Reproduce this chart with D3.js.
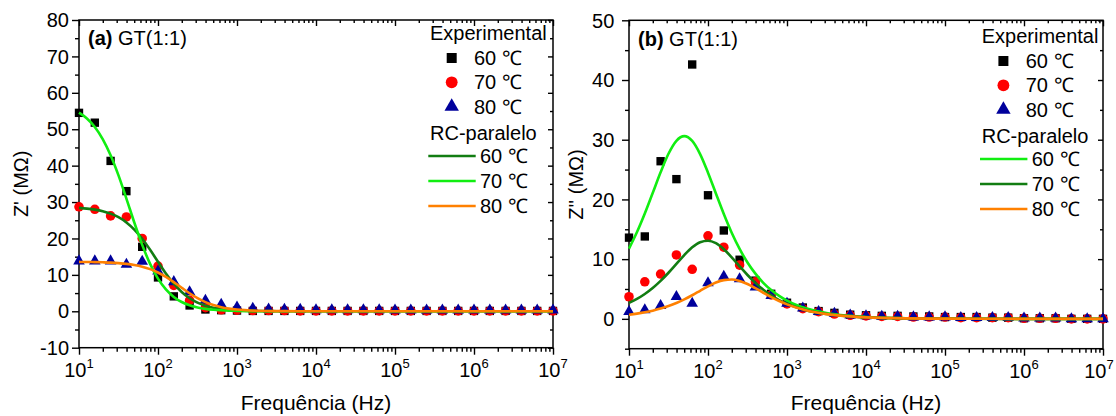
<!DOCTYPE html>
<html>
<head>
<meta charset="utf-8">
<script src="https://cdn.jsdelivr.net/npm/d3@7"></script>
<style>
  body { margin: 0; background: #fff; }
  svg text { font-family: "Liberation Sans", Arial, Helvetica, sans-serif; fill: #000; }
</style>
</head>
<body>
<svg id="chart" width="1116" height="416"></svg>
<script>
// ============================================
// Data
// ============================================

// measured frequencies (Hz), 5 per decade
const expFreq = [10, 15.85, 25.12, 39.81, 63.1, 100, 158.5, 251.2, 398.1, 631, 1000,
  1585, 2512, 3981, 6310, 1e4, 15850, 25120, 39810, 63100, 1e5,
  158500, 251200, 398100, 631000, 1e6, 1585000, 2512000, 3981000, 6310000, 1e7];

// (a) Z' experimental, MOhm
const zReal60 = [54.5, 51.8, 41.3, 33.0, 17.7, 9.3, 4.1, 1.6, 0.5, 0.3, 0.2,
  0.1, 0.1, 0.1, 0.1, 0.1, 0.1, 0.1, 0.1, 0.1, 0.1, 0.1, 0.1, 0.1, 0.1, 0.1, 0.1, 0.1, 0.1, 0.1, 0.1];
const zReal70 = [28.7, 28.0, 26.2, 25.9, 20.0, 12.4, 7.1, 3.0, 1.0, 0.4, 0.3,
  0.2, 0.2, 0.2, 0.1, 0.1, 0.1, 0.1, 0.1, 0.1, 0.1, 0.1, 0.1, 0.1, 0.1, 0.1, 0.1, 0.1, 0.1, 0.1, 0.1];
const zReal80 = [13.8, 13.8, 13.8, 12.9, 13.7, 11.0, 8.1, 5.3, 3.0, 1.9, 1.1,
  0.8, 0.6, 0.5, 0.5, 0.4, 0.4, 0.4, 0.4, 0.4, 0.3, 0.3, 0.3, 0.3, 0.3, 0.3, 0.3, 0.3, 0.3, 0.3, 0.3];

// (b) Z'' experimental, MOhm
const zImag60 = [13.6, 13.8, 26.4, 23.4, 42.6, 20.7, 14.8, 9.9, 6.4, 4.2, 2.7,
  1.9, 1.3, 1.0, 0.7, 0.6, 0.5, 0.5, 0.4, 0.4, 0.3, 0.3, 0.3, 0.2, 0.2, 0.1, 0.1, 0.1, 0.0, 0.0, 0.0];
const zImag70 = [3.7, 6.2, 7.5, 10.7, 8.3, 13.9, 12.0, 9.0, 6.2, 4.0, 2.5,
  1.7, 1.2, 0.8, 0.6, 0.5, 0.4, 0.4, 0.3, 0.3, 0.3, 0.2, 0.2, 0.2, 0.2, 0.1, 0.1, 0.1, 0.0, 0.0, 0.0];
const zImag80 = [1.2, 1.5, 2.2, 3.7, 2.6, 6.0, 7.1, 6.7, 5.3, 3.9, 2.6,
  1.8, 1.2, 0.9, 0.6, 0.5, 0.4, 0.4, 0.3, 0.3, 0.3, 0.2, 0.2, 0.2, 0.2, 0.1, 0.1, 0.1, 0.0, 0.0, 0.0];

// frequencies where the RC-paralelo curves were read
const fitFreq = [10, 12.59, 15.85, 19.95, 25.12, 31.62, 39.81, 50.12, 63.1, 79.43, 100,
  125.9, 158.5, 199.5, 251.2, 316.2, 398.1, 501.2, 631, 794.3, 1000,
  1778, 3162, 5623, 1e4, 31623, 1e5, 1e6, 1e7];

// (a) RC-paralelo Z'
const fitReal60 = [28.39, 28.20, 27.92, 27.49, 26.82, 25.84, 24.41, 22.45, 19.91, 16.89, 13.62,
  10.41, 7.59, 5.30, 3.59, 2.38, 1.55, 1.00, 0.64, 0.40, 0.26, 0.08, 0.03, 0.01, 0, 0, 0, 0, 0];
const fitReal70 = [54.55, 52.96, 50.62, 47.31, 42.87, 37.32, 30.96, 24.38, 18.24, 13.03, 8.97,
  6.01, 3.94, 2.55, 1.64, 1.04, 0.66, 0.42, 0.27, 0.17, 0.11, 0.03, 0.01, 0, 0, 0, 0, 0, 0];
const fitReal80 = [13.56, 13.54, 13.51, 13.45, 13.37, 13.23, 13.03, 12.72, 12.25, 11.58, 10.65,
  9.45, 8.02, 6.47, 4.95, 3.61, 2.52, 1.71, 1.13, 0.74, 0.47, 0.15, 0.05, 0.02, 0, 0, 0, 0, 0];

// (b) RC-paralelo Z''
const fitImag60 = [11.77, 14.49, 17.63, 21.07, 24.55, 27.65, 29.82, 30.6, 29.79, 27.59, 24.48,
  21.0, 17.56, 14.43, 11.72, 9.44, 7.57, 6.04, 4.82, 3.84, 3.05, 1.72, 0.97, 0.54, 0.31, 0.10, 0.03, 0, 0];
const fitImag70 = [2.67, 3.34, 4.17, 5.17, 6.36, 7.72, 9.20, 10.68, 11.98, 12.84, 13.09,
  12.67, 11.66, 10.30, 8.80, 7.34, 6.03, 4.89, 3.94, 3.15, 2.52, 1.42, 0.80, 0.45, 0.25, 0.08, 0.03, 0, 0];
const fitImag80 = [0.69, 0.87, 1.09, 1.37, 1.72, 2.14, 2.65, 3.26, 3.95, 4.70, 5.44,
  6.08, 6.49, 6.59, 6.35, 5.83, 5.13, 4.37, 3.64, 2.99, 2.42, 1.39, 0.79, 0.45, 0.25, 0.08, 0.03, 0, 0];

// axis ticks
const yTicksA = [-10, 0, 10, 20, 30, 40, 50, 60, 70, 80];
const yTicksB = [0, 10, 20, 30, 40, 50];
const tempLabels = ['60 \u2103', '70 \u2103', '80 \u2103'];

// ============================================
// Styles
// ============================================

const colors = {
  black: '#000000',
  red: '#ff0000',
  navy: '#00009c',
  lime: '#11ee11',
  green: '#127d12',
  orange: '#ff8000'
};

const markerColors = [colors.black, colors.red, colors.navy];
const markerShapes = [d3.symbolSquare, d3.symbolCircle, d3.symbolTriangle];
const markerSizes = [70, 72, 58];
const legendSizes = [100, 110, 90];

const panels = [
  {
    left: 79, right: 553, top: 20, bottom: 347.7,
    yDomain: [-10, 80], yTicks: yTicksA, labelGap: 10,
    letter: '(a)', ylabel: "Z' (M\u03a9)", ylabelX: 21,
    exp: [zReal60, zReal70, zReal80],
    fits: [
      { values: fitReal60, color: colors.green },
      { values: fitReal70, color: colors.lime },
      { values: fitReal80, color: colors.orange }
    ],
    legendX: 430, legendY: 0
  },
  {
    left: 629, right: 1103, top: 20.3, bottom: 348.7,
    yDomain: [-5, 50], yTicks: yTicksB, labelGap: 14.7,
    letter: '(b)', ylabel: "Z'' (M\u03a9)", ylabelX: 576,
    exp: [zImag60, zImag70, zImag80],
    fits: [
      { values: fitImag60, color: colors.lime },
      { values: fitImag70, color: colors.green },
      { values: fitImag80, color: colors.orange }
    ],
    legendX: 981.7, legendY: 3
  }
];

const svg = d3.select('#chart');
const pageWidth = 1116;

function styleAxis(axis) {
  axis.select('.domain').remove();
  axis.selectAll('line').attr('stroke', '#000').attr('stroke-width', 1.4);
}

function drawPanel(p) {
  const x = d3.scaleLog().domain([10, 1e7]).range([p.left, p.right]);
  const y = d3.scaleLinear().domain(p.yDomain).range([p.bottom, p.top]);
  const g = svg.append('g');

  const xAll = x.ticks();
  const isDecade = v => Math.abs(Math.log10(v) - Math.round(Math.log10(v))) < 1e-9;
  const xMajor = xAll.filter(isDecade);
  const xMinor = xAll.filter(v => !isDecade(v));
  const yMinor = d3.range(p.yDomain[0], p.yDomain[1] + 0.1, 5).filter(v => !p.yTicks.includes(v));

  // bottom (outward) and top (inward)
  g.append('g').attr('transform', `translate(0,${p.bottom})`)
    .call(d3.axisBottom(x).tickValues(xMajor).tickSize(7).tickFormat('')).call(styleAxis);
  g.append('g').attr('transform', `translate(0,${p.bottom})`)
    .call(d3.axisBottom(x).tickValues(xMinor).tickSize(4).tickFormat('')).call(styleAxis);
  g.append('g').attr('transform', `translate(0,${p.top})`)
    .call(d3.axisTop(x).tickValues(xMajor).tickSize(-6).tickFormat('')).call(styleAxis);
  g.append('g').attr('transform', `translate(0,${p.top})`)
    .call(d3.axisTop(x).tickValues(xMinor).tickSize(-3).tickFormat('')).call(styleAxis);

  // left (outward) and right (inward)
  g.append('g').attr('transform', `translate(${p.left},0)`)
    .call(d3.axisLeft(y).tickValues(p.yTicks).tickSize(7).tickFormat('')).call(styleAxis);
  g.append('g').attr('transform', `translate(${p.left},0)`)
    .call(d3.axisLeft(y).tickValues(yMinor).tickSize(4).tickFormat('')).call(styleAxis);
  g.append('g').attr('transform', `translate(${p.right},0)`)
    .call(d3.axisRight(y).tickValues(p.yTicks).tickSize(-5).tickFormat('')).call(styleAxis);
  g.append('g').attr('transform', `translate(${p.right},0)`)
    .call(d3.axisRight(y).tickValues(yMinor).tickSize(-3).tickFormat('')).call(styleAxis);

  // frame
  g.append('rect')
    .attr('x', p.left).attr('y', p.top)
    .attr('width', p.right - p.left).attr('height', p.bottom - p.top)
    .attr('fill', 'none').attr('stroke', '#000').attr('stroke-width', 1.5);

  // tick labels
  g.selectAll('.ylab').data(p.yTicks).join('text')
    .attr('x', p.left - p.labelGap).attr('y', d => y(d)).attr('dy', '0.36em')
    .attr('text-anchor', 'end').attr('font-size', 20)
    .text(d => String(d));

  // keep the last decade label inside the page
  g.selectAll('.xlab').data(xMajor).join('text')
    .attr('x', d => Math.min(x(d), pageWidth - 17)).attr('y', p.bottom + 29.5)
    .attr('text-anchor', 'middle').attr('font-size', 20)
    .each(function (d) {
      const t = d3.select(this);
      t.append('tspan').text('10');
      t.append('tspan').attr('dy', -9).attr('font-size', 13).text(Math.round(Math.log10(d)));
    });

  // axis titles
  g.append('text')
    .attr('transform', `translate(${p.ylabelX},${(p.top + p.bottom) / 2}) rotate(-90)`)
    .attr('dy', '0.36em').attr('text-anchor', 'middle').attr('font-size', 20)
    .text(p.ylabel);
  g.append('text')
    .attr('x', (p.left + p.right) / 2).attr('y', 410)
    .attr('text-anchor', 'middle').attr('font-size', 21)
    .text('Frequ\u00eancia (Hz)');

  // panel title
  const title = g.append('text').attr('x', p.left + 9).attr('y', 45 + p.legendY / 3).attr('font-size', 20);
  title.append('tspan').attr('font-weight', 'bold').text(p.letter);
  title.append('tspan').text(' GT(1:1)');

  // experimental markers
  p.exp.forEach((vals, i) => {
    g.append('g').selectAll('path')
      .data(vals.map((v, k) => [expFreq[k], v]))
      .join('path')
      .attr('d', d3.symbol(markerShapes[i], markerSizes[i]))
      .attr('transform', d => `translate(${x(d[0])},${y(d[1])})`)
      .attr('fill', markerColors[i]);
  });

  // RC-paralelo curves
  const line = d3.line()
    .x(d => x(d[0]))
    .y(d => y(d[1]))
    .curve(d3.curveMonotoneX);
  p.fits.forEach(f => {
    g.append('path')
      .datum(f.values.map((v, k) => [fitFreq[k], v]))
      .attr('d', line)
      .attr('fill', 'none')
      .attr('stroke', f.color)
      .attr('stroke-width', 2.6);
  });

  drawLegend(p);
}

function drawLegend(p) {
  const lg = svg.append('g').attr('transform', `translate(${p.legendX},${p.legendY})`);
  const row = 24.3;

  lg.append('text').attr('x', 0).attr('y', 40).attr('font-size', 20).text('Experimental');
  markerShapes.forEach((s, i) => {
    const cy = 58 + i * row;
    lg.append('path')
      .attr('d', d3.symbol(s, legendSizes[i]))
      .attr('transform', `translate(21.7,${cy})`)
      .attr('fill', markerColors[i]);
    lg.append('text').attr('x', 44).attr('y', cy + 7).attr('font-size', 20).text(tempLabels[i]);
  });

  lg.append('text').attr('x', 0).attr('y', 140).attr('font-size', 20).text('RC-paralelo');
  p.fits.forEach((f, i) => {
    const cy = 156 + i * 25;
    lg.append('line')
      .attr('x1', -1.7).attr('x2', 45.7).attr('y1', cy).attr('y2', cy)
      .attr('stroke', f.color).attr('stroke-width', 2.6);
    lg.append('text').attr('x', 50).attr('y', cy + 7).attr('font-size', 20).text(tempLabels[i]);
  });
}

panels.forEach(drawPanel);
</script>
</body>
</html>
